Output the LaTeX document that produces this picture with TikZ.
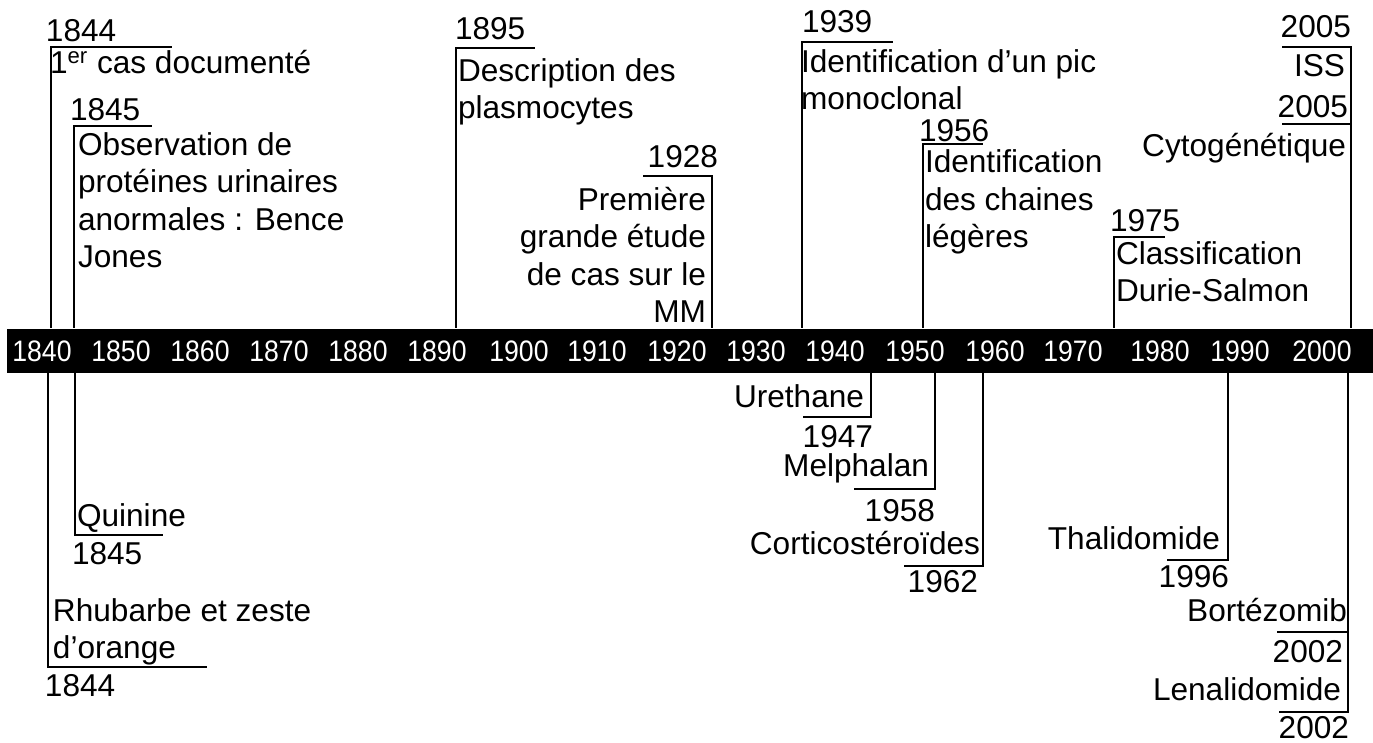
\documentclass[tikz,border=0pt]{standalone}
\usepackage{fontspec}
\setmainfont{Liberation Sans}
\newcommand{\axislbl}[1]{{\fontsize{14.8}{18}\selectfont\scalebox{0.9}[1]{#1}}}
\tikzset{
  txt/.style={inner sep=0,outer sep=0,font=\fontsize{15.8}{18.75}\selectfont},
  txtl/.style={txt,anchor=base west,align=left},
  txtr/.style={txt,anchor=base east,align=right},
  yrlbl/.style={text=white,inner sep=0,outer sep=0},
  brk/.style={line width=1pt}
}
\begin{document}
\begin{tikzpicture}[x=0.5pt,y=-0.5pt]
\useasboundingbox (0,0) rectangle (1373,743);
\node[fill=black,inner sep=0,outer sep=0,anchor=north west,minimum width=683pt,minimum height=22pt] (AXIS) at (7,329) {};
\foreach \yy/\xx in {1840/42,1850/121,1860/200,1870/279,1880/358,1890/437,1900/519,1910/597,1920/677,1930/756,1940/835,1950/915,1960/995,1970/1073,1980/1160,1990/1240,2000/1322}
  \node[yrlbl] (Y\yy) at (\xx,351) {\axislbl{\yy}};

\node[txtl] (D1844a) at (46,42) {1844};
\node[txtl] (E1844a) at (50,74) {1\textsuperscript{er} cas documenté};
\node[txtl] (D1845a) at (70,121) {1845};
\node[txtl] (E1845a) at (78,268) {Observation de\\protéines urinaires\\anormales : Bence\\Jones};
\node[txtl] (D1895) at (455,40) {1895};
\node[txtl] (E1895) at (458,119) {Description des\\plasmocytes};
\node[txtr] (D1928) at (718,168) {1928};
\node[txtr] (E1928) at (706,323) {Première\\grande étude\\de cas sur le\\MM};
\node[txtl] (D1939) at (802,33) {1939};
\node[txtl] (E1939) at (801,110) {Identification d’un pic\\monoclonal};
\node[txtl] (D1956) at (919,142) {1956};
\node[txtl] (E1956) at (925,248) {Identification\\des chaines\\légères};
\node[txtl] (D1975) at (1110,232) {1975};
\node[txtl] (E1975) at (1116,302) {Classification\\Durie-Salmon};
\node[txtr] (D2005a) at (1351,38) {2005};
\node[txtr] (E2005a) at (1345,77) {ISS};
\node[txtr] (D2005b) at (1348,118) {2005};
\node[txtr] (E2005b) at (1346,157) {Cytogénétique};

\node[txtl] (E1844b) at (53,659) {Rhubarbe et zeste\\d’orange};
\node[txtl] (D1844b) at (45,697) {1844};
\node[txtl] (E1845b) at (77,527) {Quinine};
\node[txtl] (D1845b) at (72,565) {1845};
\node[txtr] (E1947) at (864,408) {Urethane};
\node[txtr] (D1947) at (873,448) {1947};
\node[txtr] (E1958) at (929,477) {Melphalan};
\node[txtr] (D1958) at (935,522) {1958};
\node[txtr] (E1962) at (980,555) {Corticostéroïdes};
\node[txtr] (D1962) at (978,593) {1962};
\node[txtr] (E1996) at (1220,550) {Thalidomide};
\node[txtr] (D1996) at (1229,588) {1996};
\node[txtr] (E2002a) at (1347,622) {Bortézomib};
\node[txtr] (D2002a) at (1343,662) {2002};
\node[txtr] (E2002b) at (1341,700) {Lenalidomide};
\node[txtr] (D2002b) at (1349,738) {2002};

\foreach \n/\bx/\ex/\ey in {1844a/51/172/47,1845a/74/152/126,1895/456/535/48,1928/712/643/176,1939/802/893/42,1956/923/983/144,1975/1114/1165/237,2005a/1351/1282/47}{
  \coordinate (B\n) at (\bx,328);
  \coordinate (H\n) at (\ex,\ey);
  \draw[brk] (B\n) |- (H\n);
}
\foreach \n/\bx/\ex/\ey in {1844b/48/207/667,1845b/75/163/535,1947/871/803/417,1958/935/854/489,1962/983/904/566,1996/1228/1167/560,2002b/1348/1279/712}{
  \coordinate (B\n) at (\bx,373);
  \coordinate (H\n) at (\ex,\ey);
  \draw[brk] (B\n) |- (H\n);
}
\coordinate (C2005b) at (1351,124);
\coordinate (H2005b) at (1282,124);
\draw[brk] (C2005b) -- (H2005b);
\coordinate (C2002a) at (1348,632);
\coordinate (H2002a) at (1277,632);
\draw[brk] (C2002a) -- (H2002a);
\end{tikzpicture}
\end{document}
